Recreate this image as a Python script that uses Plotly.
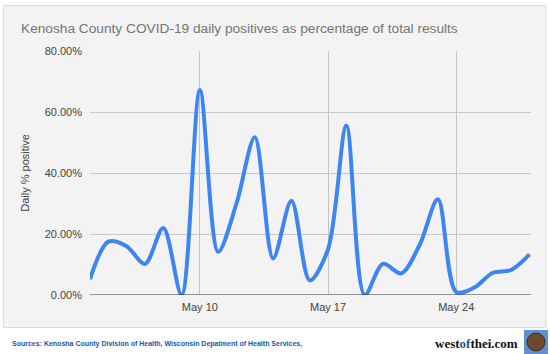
import plotly.graph_objects as go

dates = ["2020-05-%02d" % d for d in range(4, 29)]
positives_pct = [5.2, 17.5, 16.0, 10.2, 22.0, 0.0, 67.2, 14.2, 30.0, 51.7, 12.0, 30.9,
                 4.8, 15.0, 55.5, 0.0, 10.2, 7.1, 16.4, 31.4, 1.0, 2.5, 7.3, 8.2, 13.3]
y_ticks = [0, 20, 40, 60, 80]
y_tick_labels = ["0.00%", "20.00%", "40.00%", "60.00%", "80.00%"]
x_ticks = ["2020-05-10", "2020-05-17", "2020-05-24"]
x_tick_labels = ["May 10", "May 17", "May 24"]

W, H = 550, 354
L, R, T, B = 90, 19, 51, 59
pw, ph = W - L - R, H - T - B

def px(x):
    return (x - L) / pw

def py(y):
    return (H - B - y) / ph

fig = go.Figure()
fig.add_trace(go.Scatter(
    x=dates, y=positives_pct, mode="lines",
    line=dict(color="#3d85f2", width=4, shape="spline", smoothing=0.9),
    hoverinfo="skip", showlegend=False, cliponaxis=True,
))

fig.update_layout(
    width=W, height=H,
    margin=dict(l=L, r=R, t=T, b=B, pad=0),
    paper_bgcolor="white",
    plot_bgcolor="#f3f3f3",
    font=dict(family="Liberation Sans, Arial, sans-serif", size=11, color="#444444"),
    xaxis=dict(
        type="date",
        range=["2020-05-04", "2020-05-28 02:00"],
        tickvals=x_ticks, ticktext=x_tick_labels,
        showgrid=True, gridcolor="#c4c4c4", gridwidth=1,
        zeroline=False, showline=False, ticks="",
        ticklabelstandoff=4,
        tickfont=dict(size=11, color="#444444"),
        fixedrange=True,
    ),
    yaxis=dict(
        range=[0, 80],
        tickvals=y_ticks, ticktext=y_tick_labels,
        showgrid=True, gridcolor="#c8c8c8", gridwidth=1,
        zeroline=False, showline=False, ticks="",
        ticklabelstandoff=7,
        tickfont=dict(size=11, color="#444444"),
        title=dict(text="Daily % positive", font=dict(size=11, color="#444444"), standoff=12),
        fixedrange=True,
    ),
    shapes=[
        dict(type="rect", xref="paper", yref="paper",
             x0=px(3.5), x1=px(546), y0=py(5.5), y1=py(327.5),
             fillcolor="#f3f3f3", line=dict(color="#dcdcdc", width=1), layer="below"),
        dict(type="line", xref="paper", yref="y", x0=0, x1=1, y0=0, y1=0,
             line=dict(color="#333333", width=1.2), layer="above"),
        dict(type="rect", xref="paper", yref="paper",
             x0=px(524), x1=px(548), y0=py(330), y1=py(354),
             fillcolor="#5f8fcc", line=dict(width=0), layer="above"),
        dict(type="circle", xref="paper", yref="paper",
             x0=px(527), x1=px(545), y0=py(333), y1=py(351),
             fillcolor="#6b4a2e", line=dict(color="#3a2a1a", width=1), layer="above"),
    ],
    annotations=[
        dict(text="Kenosha County COVID-19 daily positives as percentage of total results",
             xref="paper", yref="paper", x=px(19), y=py(28), xanchor="left", yanchor="middle",
             showarrow=False, font=dict(size=13.7, color="#757575")),
        dict(text="<b>Sources: Kenosha County Division of Health, Wisconsin Depatment of Health Services,</b>",
             xref="paper", yref="paper", x=px(10), y=py(344), xanchor="left", yanchor="middle",
             showarrow=False, font=dict(size=7, color="#2255aa")),
        dict(text="<b>west<span style='color:#2a4f9a'>of</span>thei.com</b>",
             xref="paper", yref="paper", x=px(520), y=py(343), xanchor="right", yanchor="middle",
             showarrow=False, font=dict(family="Liberation Serif, Times New Roman, serif", size=13, color="#111111")),
    ],
)

fig.write_html("out.html")
